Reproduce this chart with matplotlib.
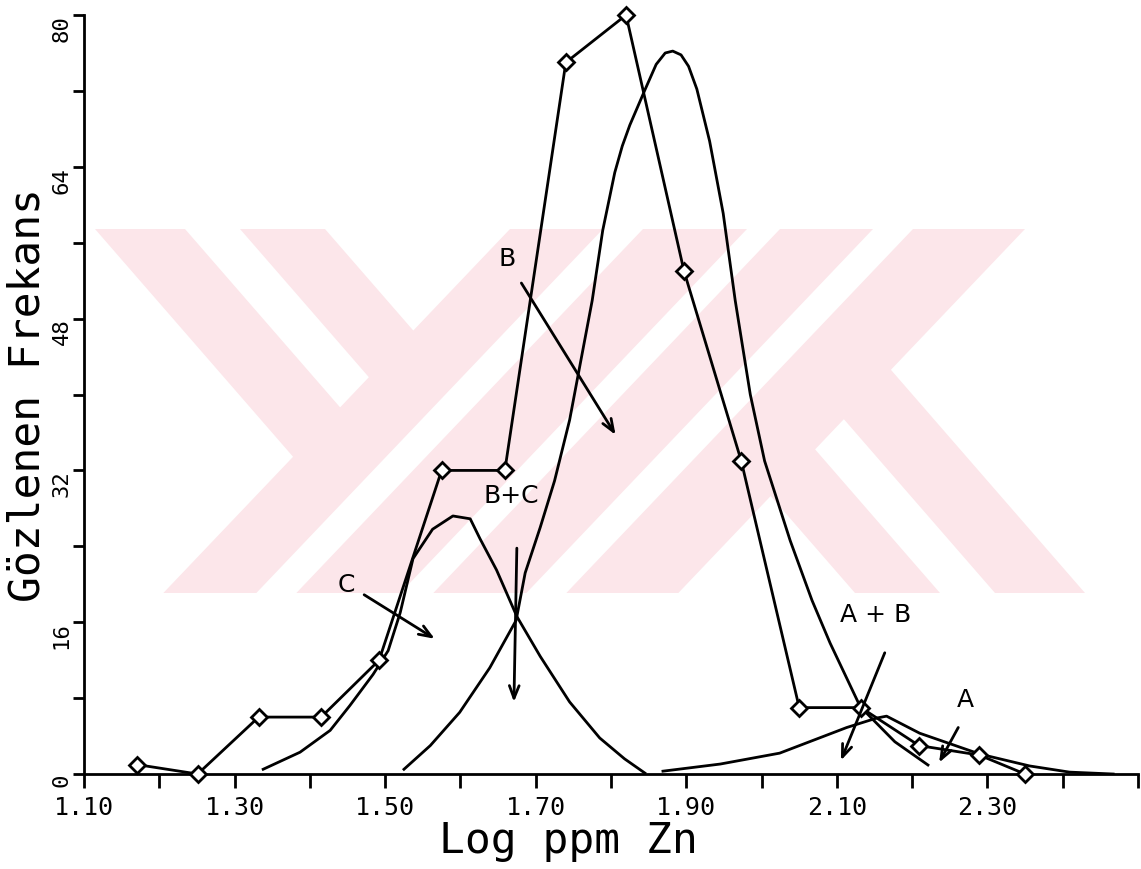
#Frequency polygon of log ppm Zn with fitted component curves A, B, C
import matplotlib.pyplot as plt
import matplotlib.transforms as mtransforms
from matplotlib.patches import Polygon
import numpy as np

# observed frequencies (diamonds)
obs_x = [1.170, 1.251, 1.332, 1.415, 1.492, 1.575, 1.659, 1.740, 1.820, 1.897, 1.973, 2.050, 2.132, 2.209, 2.289, 2.350]
obs_y = [1, 0, 6, 6, 12, 32, 32, 75, 80, 53, 33, 7, 7, 3, 2, 0]

# component C
c_x = [1.338, 1.387, 1.427, 1.453, 1.484, 1.504, 1.520, 1.537, 1.563, 1.590, 1.613, 1.626, 1.648, 1.675, 1.706, 1.745, 1.785, 1.818, 1.845]
c_y = [0.5, 2.3, 4.6, 7.2, 10.5, 13.0, 17.0, 22.7, 25.8, 27.2, 26.9, 24.8, 21.5, 16.6, 12.4, 7.6, 3.8, 1.6, 0.1]

# component B
b_x = [1.525, 1.560, 1.599, 1.639, 1.674, 1.686, 1.706, 1.725, 1.745, 1.775, 1.789, 1.805, 1.815, 1.825, 1.845,
       1.860, 1.872, 1.882, 1.893, 1.903, 1.914, 1.931, 1.949, 1.965, 1.985, 2.004, 2.038, 2.067, 2.091, 2.131, 2.177, 2.221]
b_y = [0.5, 3.0, 6.5, 11.2, 16.2, 21.2, 26.0, 30.9, 37.3, 49.9, 57.3, 63.4, 66.2, 68.4, 72.1,
       74.8, 76.0, 76.2, 75.8, 74.6, 72.2, 66.7, 59.1, 49.9, 40.0, 33.0, 24.6, 18.3, 13.8, 7.1, 3.4, 0.95]

# component A
a_x = [1.869, 1.945, 2.024, 2.113, 2.153, 2.166, 2.210, 2.290, 2.356, 2.409, 2.467]
a_y = [0.3, 1.05, 2.2, 4.9, 5.9, 6.1, 4.3, 2.1, 0.85, 0.2, 0.0]

# labels and arrows: (text, label pos, arrow start, arrow end)
notes = [
	('B', (1.662, 54.3), (1.679, 52.0), (1.808, 35.5)),
	('B+C', (1.668, 29.3), (1.675, 24.1), (1.671, 7.3)),
	('C', (1.449, 19.9), (1.469, 19.05), (1.569, 14.1)),
	('A + B', (2.152, 16.8), (2.165, 13.05), (2.104, 1.16)),
	('A', (2.271, 7.8), (2.263, 5.16), (2.234, 0.95)),
]

xticks = [1.10, 1.30, 1.50, 1.70, 1.90, 2.10, 2.30]
xticklabels = ['1.10', '1.30', '1.50', '1.70', '1.90', '2.10', '2.30']
yticks = [0, 16, 32, 48, 64, 80]

W, H = 1141, 869
fig = plt.figure(figsize=(W/100, H/100), dpi=100)

# ---- faint pink watermark (pixel coords from top-left) ----
TOP, BOT = 229, 593
SU, SD = 1.05, 1.15   # slopes of '/' and '\' stripes
PINK = '#fce6ea'

def add_poly(pts):
	fig.patches.append(Polygon([(px, H-py) for px, py in pts], closed=True, transform=None,
		facecolor=PINK, edgecolor='none', zorder=-1))

def up_band(x0, x1):  # '/' stripe, given by its x span at the top
	s = (BOT-TOP)/SU
	add_poly([(x0, TOP), (x1, TOP), (x1-s, BOT), (x0-s, BOT)])

def cut_y(x0, c):  # where '\' line from (x0,TOP) meets '/' line from (c,TOP)
	return TOP + (c-x0)/(1/SD + 1/SU)

def down_band_top(x0, x1, c):  # '\' stripe from the top edge until the '/' line c
	ya, yb = cut_y(x0, c), cut_y(x1, c)
	add_poly([(x0, TOP), (x1, TOP), (x1+(yb-TOP)/SD, yb), (x0+(ya-TOP)/SD, ya)])

def down_band_bot(x0, x1, c):  # '\' stripe from the bottom edge back up to the '/' line c
	s = (BOT-TOP)/SD
	t0, t1 = x0-s, x1-s
	ya, yb = cut_y(t0, c), cut_y(t1, c)
	add_poly([(x0, BOT), (x1, BOT), (t1+(yb-TOP)/SD, yb), (t0+(ya-TOP)/SD, ya)])

for x0, x1 in ((510, 603), (643, 747), (780, 873), (913, 1025)):
	up_band(x0, x1)
for x0, x1 in ((95, 185), (240, 325)):
	down_band_top(x0, x1, 550)
for x0, x1 in ((855, 940), (995, 1085)):
	down_band_bot(x0, x1, 985)

# ---- chart ----
ax = fig.add_axes([0.0736, 0.1093, 0.9238, 0.8734])
ax.patch.set_alpha(0)

ax.plot(obs_x, obs_y, color='black', lw=2, marker='D', ms=8, mfc='white', mec='black', mew=2, clip_on=False, zorder=3)
ax.plot(c_x, c_y, color='black', lw=2)
ax.plot(b_x, b_y, color='black', lw=2)
ax.plot(a_x, a_y, color='black', lw=2)

for txt, lp, s, e in notes:
	ax.text(lp[0], lp[1], txt, ha='center', va='center', fontsize=18, family='DejaVu Sans')
	ax.annotate('', xy=e, xytext=s,
		arrowprops=dict(arrowstyle='->,head_length=0.9,head_width=0.35', color='black', lw=2))

ax.set_xlim(1.10, 2.50)
ax.set_ylim(0, 80)
ax.spines['top'].set_visible(False)
ax.spines['right'].set_visible(False)
ax.spines['left'].set_linewidth(2)
ax.spines['bottom'].set_linewidth(2)

ax.set_xticks(np.arange(1.10, 2.51, 0.1), minor=True)
ax.set_xticks(xticks)
ax.set_xticklabels(xticklabels, family='DejaVu Sans Mono', fontsize=18)
for i, lab in enumerate(ax.get_xticklabels()):
	dx = 0.15 if i == 0 else -0.08
	lab.set_transform(lab.get_transform() + mtransforms.ScaledTranslation(dx, 0, fig.dpi_scale_trans))
ax.set_yticks(np.arange(0, 81, 8), minor=True)
ax.set_yticks(yticks)
ax.set_yticklabels([str(v) for v in yticks], family='DejaVu Sans Mono', fontsize=16, rotation=90, va='top')
ax.tick_params(axis='x', which='both', direction='out', length=10, width=2, pad=6)
ax.tick_params(axis='y', which='both', direction='out', length=8, width=2, pad=1)

ax.set_xlabel('Log ppm Zn', family='DejaVu Sans Mono', fontsize=31)
ax.xaxis.set_label_coords(0.46, -0.06)
ax.set_ylabel('Gözlenen Frekans', family='DejaVu Sans Mono', fontsize=31)
ax.yaxis.set_label_coords(-0.034, 0.50)

fig.savefig('out.png', dpi=100)
